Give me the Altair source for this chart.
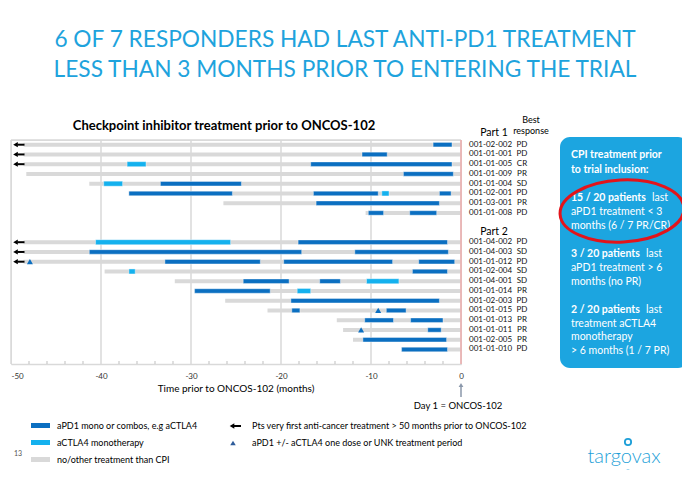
import altair as alt
import pandas as pd

FONT = "Lato"
DARK = "#0b6fc1"
LIGHT = "#14b1ee"
GRAY = "#d9d9d9"
BLUE_T = "#1ea3dd"

# ---------------- data ----------------
ids_part1 = ["001-02-002", "001-01-001", "001-01-005", "001-01-009",
             "001-01-004", "001-02-001", "001-03-001", "001-01-008"]
resp_part1 = ["PD", "PD", "CR", "PR", "SD", "PD", "PR", "PD"]
ids_part2 = ["001-04-002", "001-04-003", "001-01-012", "001-02-004",
             "001-04-001", "001-01-014", "001-02-003", "001-01-015",
             "001-01-013", "001-01-011", "001-02-005", "001-01-010"]
resp_part2 = ["PD", "SD", "PD", "SD", "SD", "PR", "PD", "PD", "PR", "PR", "PR", "PD"]
rows_part1 = list(range(0, 8))
rows_part2 = list(range(10, 22))

# start of the grey (no/other treatment) span, months before ONCOS-102 (ends at 0)
gray_start_part1 = [-48.6, -48.6, -48.6, -48.3, -41.3, -36.9, -26.4, -10.6]
gray_start_part2 = [-48.6, -48.6, -48.6, -39.6, -31.8, -29.6, -26.2, -21.5,
                    -13.8, -13.1, -12.0, -6.6]

# aPD1 mono or combos: (row, start, end)
dark_rows = [0, 1, 2, 3, 4, 5, 5, 5, 6, 7, 7,
             10, 11, 11, 12, 12, 12, 13, 14, 14, 15, 16, 17, 17, 18, 18, 19, 20, 21]
dark_start = [-3.1, -11.0, -16.7, -6.4, -33.4, -36.9, -16.4, -2.4, -16.1, -10.3, -5.7,
              -18.1, -41.3, -11.8, -32.9, -19.7, -4.7, -5.4, -24.2, -15.7, -29.6, -18.9,
              -18.8, -8.3, -10.7, -5.6, -3.7, -10.9, -6.6]
dark_end = [-1.0, -8.2, -1.0, -0.85, -24.4, -25.4, -9.2, -1.1, -2.4, -8.6, -2.7,
            -1.5, -17.7, -1.4, -22.3, -7.6, -0.7, -1.5, -19.1, -13.4, -21.2, -2.4,
            -17.9, -6.1, -7.5, -2.0, -2.2, -1.6, -1.5]

# aCTLA4 monotherapy
light_rows = [2, 4, 5, 10, 13, 14, 15]
light_start = [-37.1, -39.7, -8.8, -40.6, -36.9, -10.5, -18.2]
light_end = [-35.0, -37.6, -8.0, -25.6, -36.2, -6.9, -16.7]

# first anti-cancer treatment > 50 months prior
arrow_rows = [0, 1, 2, 10, 11, 12]
# aPD1 +/- aCTLA4 one dose or UNK treatment period
tri_rows = [12, 17, 19]
tri_x = [-47.9, -9.2, -11.1]

major_ticks = [-50, -40, -30, -20, -10, 0]
minor_ticks = [-48, -46, -44, -42, -38, -36, -34, -32, -28, -26, -24, -22,
               -18, -16, -14, -12, -8, -6, -4, -2]

# ---------------- tables ----------------
ids = ids_part1 + ids_part2
resps = resp_part1 + resp_part2
rows = rows_part1 + rows_part2
gstart = gray_start_part1 + gray_start_part2

df_lab = pd.DataFrame({"row": rows, "pid": ids, "resp": resps})
df_gray = pd.DataFrame({"row": rows, "start": gstart, "end": [0] * len(rows)})
df_dark = pd.DataFrame({"row": dark_rows, "start": dark_start, "end": dark_end})
df_light = pd.DataFrame({"row": light_rows, "start": light_start, "end": light_end})
df_arrow = pd.DataFrame({"row": arrow_rows, "head": [-49.5] * len(arrow_rows),
                         "a": [-49.3] * len(arrow_rows), "b": [-48.5] * len(arrow_rows)})
df_tri = pd.DataFrame({"row": tri_rows, "x": tri_x})
df_major = pd.DataFrame({"x": major_ticks})
df_minor = pd.DataFrame({"x": minor_ticks})
dummy = pd.DataFrame({"a": [0]})

W, H = 450, 224
OX, OY = 11, 140  # page position of plot origin

xscale = alt.Scale(domain=[-50, 0], nice=False, zero=False, padding=0)
yscale = alt.Scale(domain=[-0.48, 22.49], reverse=True, nice=False, zero=False, padding=0)
xaxis = alt.Axis(values=major_ticks, labelExpr="datum.value + ''", grid=False, ticks=False,
                 domain=True, domainColor=GRAY, domainWidth=1.5, labelFontSize=8,
                 labelColor="#333333", labelFont=FONT, labelPadding=8, labelFlush=False,
                 labelAlign={"condition": {"test": "datum.value == -50", "value": "left"},
                             "value": "center"},
                 title=None)


def X(field):
    return alt.X(field, type="quantitative", scale=xscale, axis=xaxis)


def Y():
    return alt.Y("row:Q", scale=yscale, axis=None)


def txt(s, px, py, size=10, color="#000000", align="left", weight="normal",
        baseline="middle", font=FONT):
    return alt.Chart(dummy).mark_text(
        text=s, align=align, baseline=baseline, fontSize=size, fontWeight=weight,
        color=color, font=font
    ).encode(x=alt.value(px - OX), y=alt.value(py - OY))


def rect(x1, x2, y1, y2, color, radius=0):
    return alt.Chart(dummy).mark_rect(color=color, cornerRadius=radius).encode(
        x=alt.value(x1 - OX), x2=alt.value(x2 - OX),
        y=alt.value(y1 - OY), y2=alt.value(y2 - OY))


layers = []

# grid lines at the major ticks (and the axis)
layers.append(alt.Chart(df_major).mark_rule(color=GRAY, strokeWidth=1.5).encode(
    x=X("x"), y=alt.value(0), y2=alt.value(H)))

layers.append(alt.Chart(df_minor).mark_rule(color="#bfbfbf", strokeWidth=1).encode(
    x=X("x"), y=alt.value(H - 3), y2=alt.value(H)))

# top border
layers.append(alt.Chart(dummy).mark_rule(color=GRAY, strokeWidth=1.5).encode(
    x=alt.value(0), x2=alt.value(W), y=alt.value(0)))

gray_layer = alt.Chart(df_gray).mark_bar(height=4, color=GRAY).encode(
    x=X("start"), x2="end", y=Y())
dark_layer = alt.Chart(df_dark).mark_bar(height=4.5, color=DARK, stroke="white",
                                         strokeWidth=0.4).encode(
    x=X("start"), x2="end", y=Y())
light_layer = alt.Chart(df_light).mark_bar(height=5, color=LIGHT, stroke="white",
                                           strokeWidth=0.4).encode(
    x=X("start"), x2="end", y=Y())
layers += [gray_layer, dark_layer, light_layer]

# day-1 line
layers.append(alt.Chart(pd.DataFrame({"x": [0]})).mark_rule(
    color="#f2a0a0", strokeWidth=1.2).encode(x=X("x"), y=alt.value(0), y2=alt.value(H)))

arrow_shaft = alt.Chart(df_arrow).mark_rule(color="black", strokeWidth=2).encode(
    x=X("a"), x2="b", y=Y())
arrow_head = alt.Chart(df_arrow).mark_point(shape="triangle-left", size=28, filled=True,
                                            color="black", opacity=1).encode(
    x=X("head"), y=Y())
tri_layer = alt.Chart(df_tri).mark_point(shape="triangle-up", size=36, filled=True,
                                         color=DARK, opacity=1).encode(
    x=X("x"), y=Y())
layers += [arrow_shaft, arrow_head, tri_layer]

# patient labels
layers.append(alt.Chart(df_lab).mark_text(align="left", baseline="middle", fontSize=8,
                                          font=FONT, color="#111111").encode(
    x=alt.value(469 - OX), y=Y(), text="pid:N"))
layers.append(alt.Chart(df_lab).mark_text(align="center", baseline="middle", fontSize=8,
                                          font=FONT, color="#111111").encode(
    x=alt.value(522 - OX), y=Y(), text="resp:N"))

# titles
layers.append(txt("6 OF 7 RESPONDERS HAD LAST ANTI-PD1 TREATMENT", 345, 40, size=22.7,
                  color=BLUE_T, align="center"))
layers.append(txt("LESS THAN 3 MONTHS PRIOR TO ENTERING THE TRIAL", 345, 70, size=22.7,
                  color=BLUE_T, align="center"))
layers.append(txt("Checkpoint inhibitor treatment prior to ONCOS-102", 224, 126, size=13,
                  weight="bold", align="center"))
layers.append(txt("Part 1", 494, 133, size=10.5, align="center"))
layers.append(txt("Part 2", 494, 232, size=10.5, align="center"))
layers.append(txt("Best", 531, 120, size=9, align="center"))
layers.append(txt("response", 531, 131, size=9, align="center"))
layers.append(txt("Time prior to ONCOS-102 (months)", 236, 389, size=10, align="center"))

# Day 1 annotation
layers.append(alt.Chart(dummy).mark_rule(color="#8a97aa", strokeWidth=1.5).encode(
    x=alt.value(461 - OX), y=alt.value(386 - OY), y2=alt.value(397 - OY)))
layers.append(alt.Chart(dummy).mark_point(shape="triangle-up", size=22, filled=True,
                                          color="#8a97aa", opacity=1).encode(
    x=alt.value(461 - OX), y=alt.value(385 - OY)))
layers.append(txt("Day 1 = ONCOS-102", 458, 406, size=9.5, align="center"))

# info box
layers.append(rect(560, 688, 137, 368, "#1ca5e0", radius=10))
box_lines = [
    ("CPI treatment prior", 571, 155, "bold"),
    ("to trial inclusion:", 571, 170, "bold"),
    ("15 / 20 patients", 571, 198, "bold"),
    ("last", 652, 198, "normal"),
    ("aPD1 treatment < 3", 571, 212, "normal"),
    ("months (6 / 7 PR/CR)", 571, 226, "normal"),
    ("3 / 20 patients", 571, 254, "bold"),
    ("last", 646, 254, "normal"),
    ("aPD1 treatment > 6", 571, 268, "normal"),
    ("months (no PR)", 571, 282, "normal"),
    ("2 / 20 patients", 571, 310, "bold"),
    ("last", 646, 310, "normal"),
    ("treatment aCTLA4", 571, 324, "normal"),
    ("monotherapy", 571, 337, "normal"),
    ("> 6 months (1 / 7 PR)", 571, 351, "normal"),
]
for s, px, py, w in box_lines:
    layers.append(txt(s, px, py, size=10.5, color="white", weight=w))

# red ellipse
ellipse = "M -1 0 A 1 0.5 0 1 1 1 0 A 1 0.5 0 1 1 -1 0 Z"
layers.append(alt.Chart(dummy).mark_point(shape=ellipse, size=124 * 124, filled=False,
                                          stroke="#e3141b", strokeWidth=3, opacity=1,
                                          angle=357).encode(
    x=alt.value(622 - OX), y=alt.value(211 - OY)))

# legend
layers.append(rect(31, 50, 423, 428, DARK))
layers.append(rect(31, 50, 440, 445, LIGHT))
layers.append(rect(31, 50, 457, 462, GRAY))
layers.append(txt("aPD1 mono or combos, e.g aCTLA4", 57, 426, size=9))
layers.append(txt("aCTLA4 monotherapy", 57, 443, size=9))
layers.append(txt("no/other treatment than CPI", 57, 460, size=9))
layers.append(alt.Chart(dummy).mark_rule(color="black", strokeWidth=2).encode(
    x=alt.value(233 - OX), x2=alt.value(241 - OX), y=alt.value(426 - OY)))
layers.append(alt.Chart(dummy).mark_point(shape="triangle-left", size=28, filled=True,
                                          color="black", opacity=1).encode(
    x=alt.value(232 - OX), y=alt.value(426 - OY)))
layers.append(txt("Pts very first anti-cancer treatment > 50 months prior to ONCOS-102",
                  252, 426, size=9))
layers.append(alt.Chart(dummy).mark_point(shape="triangle-up", size=30, filled=True,
                                          color="#2e5c9a", opacity=1).encode(
    x=alt.value(233 - OX), y=alt.value(443 - OY)))
layers.append(txt("aPD1 +/- aCTLA4 one dose or UNK treatment period", 252, 443, size=9))
layers.append(txt("13", 14, 454, size=7, color="#555555"))

# logo
layers.append(txt("targovax", 624, 457, size=20, color="#1e9fd8", align="center",
                  weight=300))
layers.append(alt.Chart(dummy).mark_point(shape="circle", size=40, filled=False,
                                          stroke="#1e9fd8", strokeWidth=1.8, opacity=1).encode(
    x=alt.value(628 - OX), y=alt.value(442 - OY)))
layers.append(alt.Chart(dummy).mark_point(shape="circle", size=14, filled=False,
                                          stroke="#1e9fd8", strokeWidth=1.5, opacity=1).encode(
    x=alt.value(628 - OX), y=alt.value(472 - OY)))

chart = alt.layer(*layers).properties(
    width=W, height=H,
    autosize=alt.AutoSizeParams(type="none"),
    padding={"left": 3, "top": 132, "right": 221, "bottom": 106},
).configure_view(stroke=None).configure(background="white")

chart.save("out.html", embed_options={"renderer": "svg", "actions": False})
